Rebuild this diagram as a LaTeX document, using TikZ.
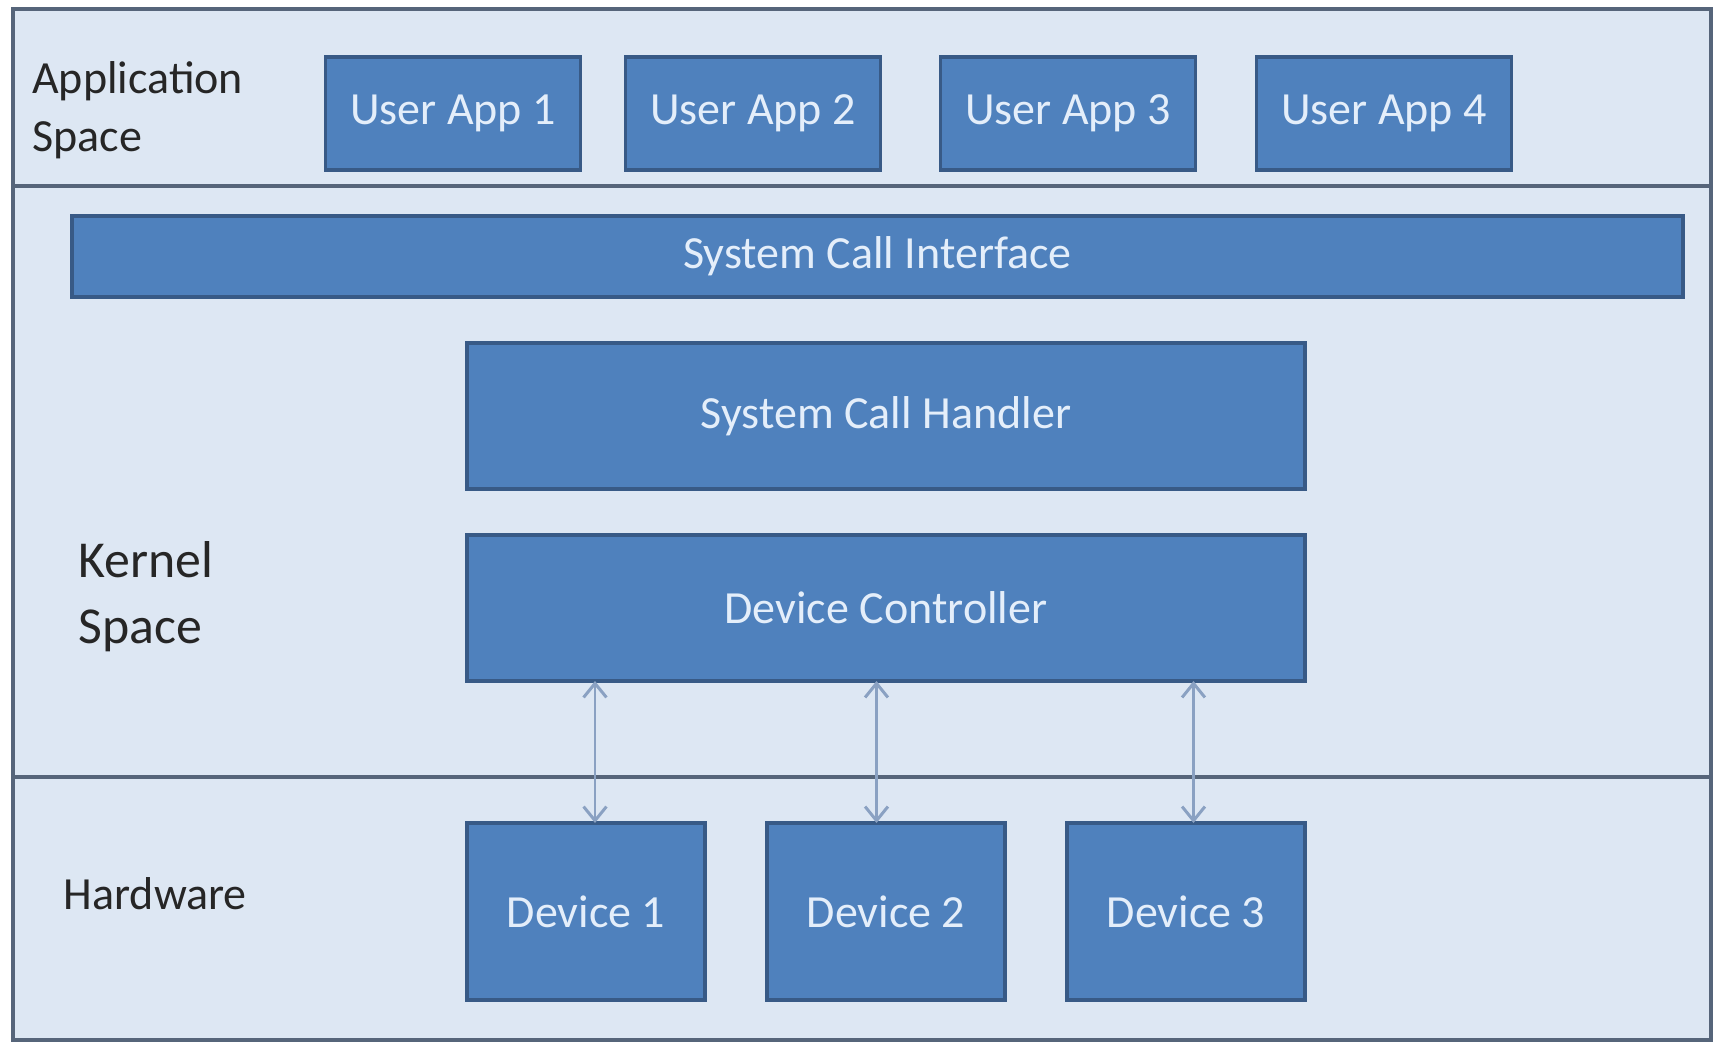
\documentclass[tikz,border=0pt]{standalone}
\usepackage{fontspec}
\setmainfont{Carlito}
\usepackage{tkz-graph}
\usetikzlibrary{arrows.meta}

\definecolor{boxblue}{HTML}{4F81BD}
\definecolor{boxline}{HTML}{385A86}
\definecolor{boxtext}{HTML}{E4EEFA}
\definecolor{layerbg}{HTML}{DDE7F3}
\definecolor{layerline}{HTML}{56657A}
\definecolor{linkline}{HTML}{8AA1C2}

\begin{document}
\begin{tikzpicture}
	\useasboundingbox (0,0) rectangle (34.4,-20.84);
	\tikzset{VertexStyle/.style={draw=boxline, line width=2pt, fill=boxblue, rectangle,
		inner sep=0pt, text=boxtext, font=\fontsize{26.2}{31}\selectfont},
		app/.style={minimum width=5.1cm, minimum height=2.26cm},
		layer/.style={minimum width=16.76cm, minimum height=2.92cm},
		dev/.style={minimum width=4.76cm, minimum height=3.54cm},
		side/.style={anchor=west, align=left, text=black!85, font=\fontsize{26.2}{33}\selectfont}}
	% layers
	\draw[layerline, line width=2.2pt, fill=layerbg] (0.26,-0.18) rectangle (34.22,-20.8);
	\draw[layerline, line width=2.2pt] (0.26,-3.72) -- (34.22,-3.72) (0.26,-15.54) -- (34.22,-15.54);
	\node[side] (app) at (0.52,-2.2) {Application\\Space};
	\node[side, font=\fontsize{29.5}{37.5}\selectfont] (kern) at (1.45,-11.94) {Kernel\\Space};
	\node[side] (hw) at (1.15,-17.88) {Hardware};
	% boxes
	\Vertex[x=9.06, y=-2.27, L={User App 1}, style={app}]{ua1}
	\EA[unit=6, L={User App 2}, style={app}](ua1){ua2}
	\EA[unit=6.3, L={User App 3}, style={app}](ua2){ua3}
	\EA[unit=6.32, L={User App 4}, style={app}](ua3){ua4}
	\Vertex[x=17.55, y=-5.13, L={System Call Interface}, style={minimum width=32.22cm, minimum height=1.62cm}]{sci}
	\Vertex[x=17.72, y=-8.32, L={System Call Handler}, style={layer}]{sch}
	\SO[unit=3.84, L={Device Controller}, style={layer}](sch){dc}
	\Vertex[x=11.72, y=-18.23, L={Device 1}, style={dev}]{dv1}
	\EA[unit=6, L={Device 2}, style={dev}](dv1){dv2}
	\EA[unit=6, L={Device 3}, style={dev}](dv2){dv3}
	\foreach \d/\s in {dv1/0.18, dv2/-0.19, dv3/0.15}
		\draw[linkline, line width=1.7pt, {Straight Barb[length=8pt,width=13pt]}-{Straight Barb[length=8pt,width=13pt]}]
			([xshift=\s cm]\d.north) -- ([xshift=\s cm]\d.north |- dc.south);
\end{tikzpicture}
\end{document}
